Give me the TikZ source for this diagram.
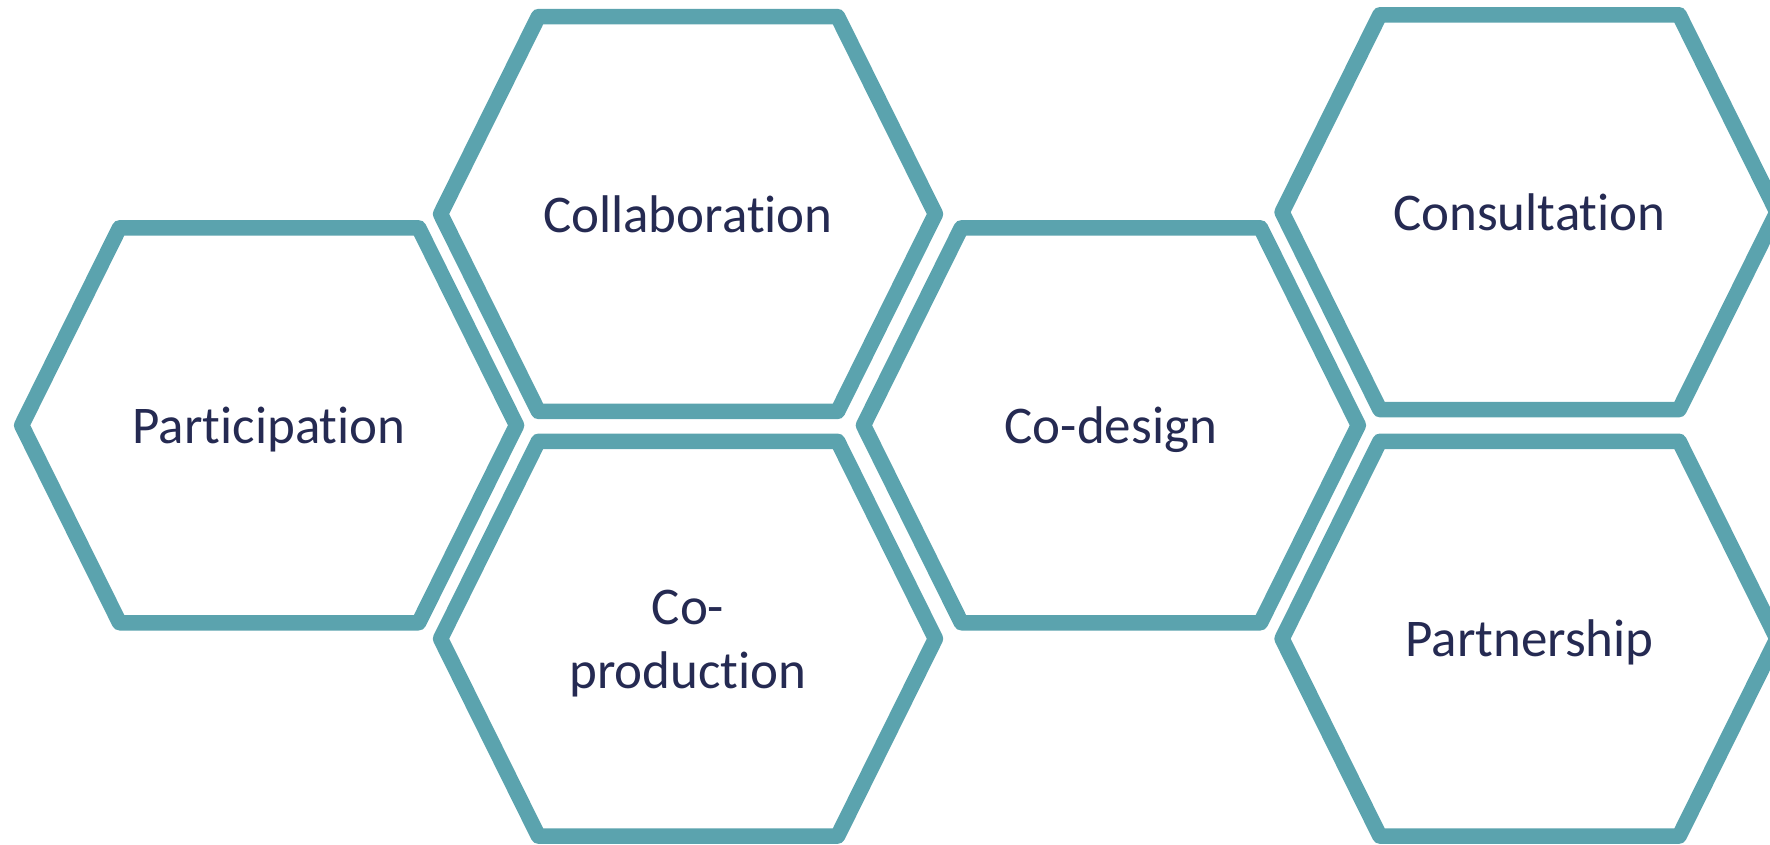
\documentclass[tikz,border=0pt]{standalone}
\usepackage{fontspec}
\setmainfont{Carlito}[Ligatures=NoCommon]
\definecolor{hexteal}{HTML}{5BA3AE}
\definecolor{hexnavy}{HTML}{252A52}
\tikzset{
  hexline/.style={draw=hexteal, line width=15.5pt, line join=round},
  hexlabel/.style={text=hexnavy, font=\fontsize{53}{64.3}\selectfont, anchor=base, align=center, inner sep=0pt},
  hexcell/.pic={\draw[hexline] (-247.45,0) -- (-149.6,-197.45) -- (149.6,-197.45) -- (247.45,0) -- (149.6,197.45) -- (-149.6,197.45) -- cycle;}
}
\begin{document}
\begin{tikzpicture}[x=1pt,y=-1pt]
\useasboundingbox (0,0) rectangle (1770,844);
\pic at (269.1,425.3) {hexcell};
\pic at (688,214) {hexcell};
\pic at (688,638.7) {hexcell};
\pic at (1110.9,425.3) {hexcell};
\pic at (1529.5,212.2) {hexcell};
\pic at (1529.5,638.7) {hexcell};
\node[hexlabel] (participation) at (269.1,443.3) {Participation};
\node[hexlabel] (collaboration) at (688,232.3) {Collaboration};
\node[hexlabel] (coproduction) at (688,688.3) {Co-\\production};
\node[hexlabel] (codesign) at (1110.9,443.3) {Co-design};
\node[hexlabel] (consultation) at (1529.5,230) {Consultation};
\node[hexlabel] (partnership) at (1529.5,656.7) {Partnership};
\end{tikzpicture}
\end{document}
